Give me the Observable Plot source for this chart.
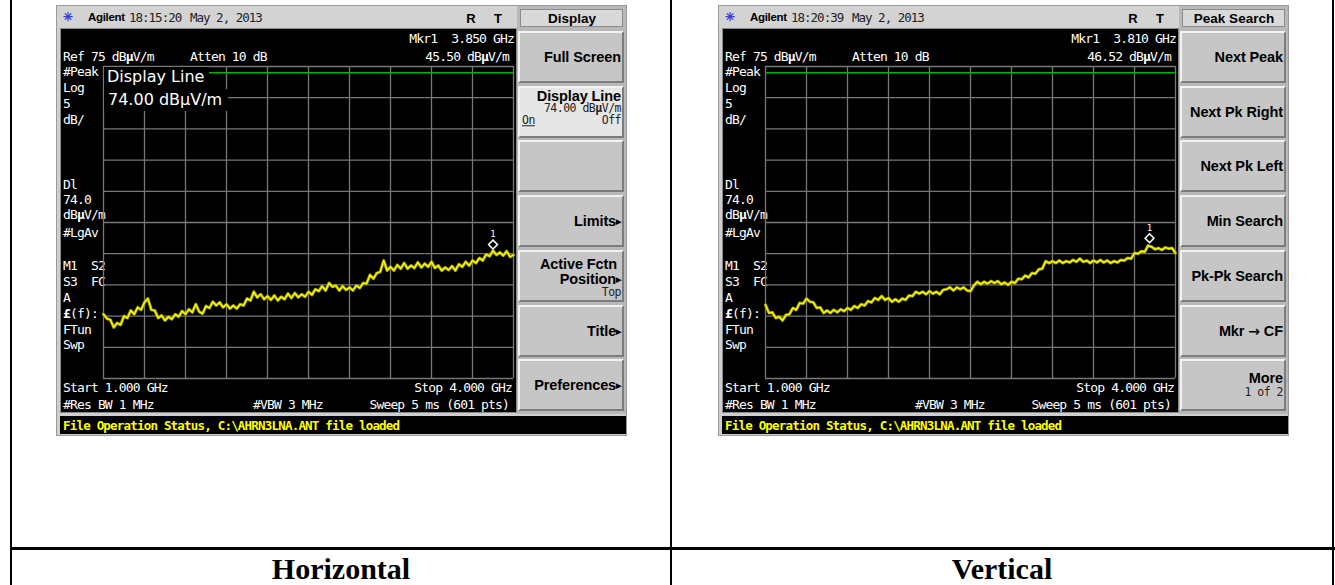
<!DOCTYPE html>
<html><head><meta charset="utf-8">
<script src="https://cdn.jsdelivr.net/npm/d3@7"></script>
<script src="https://cdn.jsdelivr.net/npm/@observablehq/plot@0.6"></script>
<style>
body{margin:0;width:1335px;height:585px;background:#fff;position:relative;overflow:hidden;}
.vline{position:absolute;top:0;width:2px;height:585px;background:#000}
.hline{position:absolute;left:11px;width:1324px;height:3px;background:#000}
.caption{position:absolute;top:552px;height:34px;font:bold 30px "Liberation Serif",serif;text-align:center;line-height:34px;color:#000}
.shot{position:absolute;top:5px;width:571px;height:431px;background:#cfcfcf;box-sizing:border-box;border:1px solid #9a9a9a}
.titlebar{position:absolute;left:0;top:0;width:460px;height:22px;background:#d3d3d3}
.screen{position:absolute;left:3px;top:22px;width:457px;height:385px;background:#000;box-sizing:border-box;border:1px solid #8a8a8a}
.status{position:absolute;left:3px;top:410px;width:566px;height:18px;background:#000}
.keys{position:absolute;left:460px;top:0;width:109px;height:408px;background:#b8b8b8}
.key{position:absolute;left:1px;width:106px;height:52px;box-sizing:border-box;background:#c6c6c6;border:2px solid;border-color:#f2f2f2 #7c7c7c #7c7c7c #f2f2f2}
.key.lit{background:#e6e6e6}
.hdr{position:absolute;left:3px;top:3px;width:103px;height:18px;box-sizing:border-box;background:#d9d9d9;border:1px solid #8c8c8c}
.t{position:absolute;white-space:pre;line-height:1;}
.mono{font-family:"DejaVu Sans Mono",monospace;font-size:13px;letter-spacing:-0.85px;color:#fff}
.stat{font-family:"DejaVu Sans Mono",monospace;font-weight:bold;font-size:12.5px;letter-spacing:-0.8px;color:#ffff00}
.big{font-family:"DejaVu Sans",sans-serif;font-size:16px;color:#fff}
.kb{font-family:"Liberation Sans",Arial,sans-serif;font-weight:bold;font-size:14.5px;letter-spacing:-0.1px;color:#000}
.tb{font-family:"Liberation Sans",Arial,sans-serif;font-weight:bold;font-size:12px;color:#000}
.tm{font-family:"DejaVu Sans Mono",monospace;font-size:12.5px;letter-spacing:-1px;color:#222}
.ks{font-family:"DejaVu Sans Mono",monospace;font-size:11.5px;letter-spacing:-0.5px;color:#222}
.arr{font-size:7px;vertical-align:2px}
.rar{font-family:"DejaVu Sans",sans-serif;font-weight:bold;font-size:14px}
.dlbox{position:absolute;background:#000}
.plot{position:absolute}
</style>
</head><body>
<div id="page"></div>
<script>
// ---------- data ----------
const freqGHz = [1.000,1.025,1.050,1.075,1.100,1.125,1.150,1.175,1.200,1.225,1.250,1.275,1.300,1.325,1.350,1.375,1.400,1.425,1.450,1.475,1.500,1.525,1.550,1.575,1.600,1.625,1.650,1.675,1.700,1.725,1.750,1.775,1.800,1.825,1.850,1.875,1.900,1.925,1.950,1.975,2.000,2.025,2.050,2.075,2.100,2.125,2.150,2.175,2.200,2.225,2.250,2.275,2.300,2.325,2.350,2.375,2.400,2.425,2.450,2.475,2.500,2.525,2.550,2.575,2.600,2.625,2.650,2.675,2.700,2.725,2.750,2.775,2.800,2.825,2.850,2.875,2.900,2.925,2.950,2.975,3.000,3.025,3.050,3.075,3.100,3.125,3.150,3.175,3.200,3.225,3.250,3.275,3.300,3.325,3.350,3.375,3.400,3.425,3.450,3.475,3.500,3.525,3.550,3.575,3.600,3.625,3.650,3.675,3.700,3.725,3.750,3.775,3.800,3.825,3.850,3.875,3.900,3.925,3.950,3.975,4.000];

const horizontalLevel = [
35.3,34.6,34.4,33.2,33.9,33.6,35.0,34.7,35.9,35.3,
36.4,36.0,37.2,37.8,36.0,35.9,34.7,35.1,34.3,34.9,
34.5,35.3,34.9,35.8,35.3,36.1,35.6,36.9,35.7,35.4,
36.6,36.3,37.3,36.7,37.2,36.4,36.9,36.2,36.7,36.2,
36.9,36.7,37.8,37.5,38.9,38.0,38.5,37.7,38.2,37.6,
38.3,37.5,38.1,37.7,38.6,37.9,38.7,38.0,38.5,38.1,
38.9,38.4,39.3,39.0,39.8,39.1,40.3,39.7,39.9,39.1,
39.8,39.2,39.6,39.1,39.9,39.5,40.3,40.2,41.6,41.0,
41.9,42.1,43.9,42.3,42.9,42.3,43.2,42.6,43.5,42.6,
43.1,42.7,43.6,42.8,43.4,42.9,43.7,42.7,43.1,42.3,
42.8,42.4,43.0,42.3,43.3,42.9,43.7,43.1,43.9,43.5,
44.3,43.9,44.9,44.6,45.5,44.8,45.2,44.7,45.4,44.5,
44.8];

const verticalLevel = [
36.8,35.5,35.6,34.7,34.9,34.3,35.2,35.3,36.3,36.0,
37.1,37.0,37.8,37.3,37.2,36.3,36.4,35.5,35.9,35.5,
36.0,35.6,36.1,35.8,36.3,36.0,36.6,36.3,36.9,36.7,
37.4,37.2,37.9,37.6,38.2,37.6,37.9,37.3,37.7,37.3,
37.8,37.6,38.3,38.2,38.9,38.6,38.9,38.5,39.0,38.6,
38.9,38.5,39.2,39.3,39.6,39.1,39.6,39.3,39.6,39.1,
39.0,39.9,40.5,40.1,40.5,40.2,40.6,40.3,40.6,40.1,
40.4,40.0,40.5,40.3,41.0,40.9,41.5,41.2,41.9,41.8,
42.5,42.6,43.8,43.5,43.8,43.5,43.9,43.5,43.8,43.6,
44.0,43.7,44.2,43.7,43.9,43.5,43.9,43.6,44.0,43.6,
43.9,43.5,43.8,43.6,44.0,43.9,44.3,44.2,45.1,45.0,
45.4,45.3,46.3,46.1,45.7,45.9,45.6,46.0,45.8,45.9,
45.1];

const freqGrid = [1.0,1.3,1.6,1.9,2.2,2.5,2.8,3.1,3.4,3.7,4.0];   // 10 divisions
const levelGrid = [25,30,35,40,45,50,55,60,65,70,75];           // Ref 75, 5 dB/div
const displayLineLevel = 74;
const markerFreqs = [3.850, 3.810];
const markerLevels = [45.50, 46.52];
const captions = ["Horizontal", "Vertical"];
const clockTimes = ["18:15:20", "18:20:39"];
const menuTitles = ["Display", "Peak Search"];
const statusText = "File Operation Status, C:\\AHRN3LNA.ANT file loaded";

// ---------- helpers ----------
const page = document.getElementById("page");
function el(parent, cls, style) {
  const d = document.createElement("div");
  d.className = cls;
  if (style) Object.assign(d.style, style);
  parent.appendChild(d);
  return d;
}
function txt(parent, html, x, cy, cls, align) {
  const d = el(parent, "t " + cls);
  d.innerHTML = html;
  d.style.left = x + "px";
  d.style.top = cy + "px";
  const tx = align === "right" ? "-100%" : align === "center" ? "-50%" : "0";
  d.style.transform = `translate(${tx},-50%)`;
  return d;
}
const MU = "<b>&micro;</b>";
const ARR = '<span class="arr">&#9654;</span>';

// table lines
el(page, "vline", {left: "10px"});
el(page, "vline", {left: "670px"});
el(page, "vline", {left: "1332px"});
el(page, "hline", {top: "547px"});

const leftKeys = [
  [{h: "Full Screen", y: 24, c: "kb", a: "right"}],
  [{h: "Display Line", y: 8.5, c: "kb", a: "right"}, {h: "74.00 dB" + MU + "V/m", y: 21.5, c: "ks", a: "right"},
   {h: "<u>On</u>", y: 33.8, c: "ks", a: "left"}, {h: "Off", y: 33.8, c: "ks", a: "right"}],
  [],
  [{h: "Limits" + ARR, y: 24, c: "kb", a: "right"}],
  [{h: "Active Fctn ", y: 12.5, c: "kb", a: "right"}, {h: "Position" + ARR, y: 27.5, c: "kb", a: "right"}, {h: "Top", y: 41.5, c: "ks", a: "right"}],
  [{h: "Title" + ARR, y: 24, c: "kb", a: "right"}],
  [{h: "Preferences" + ARR, y: 24, c: "kb", a: "right"}]
];
const rightKeys = [
  [{h: "Next Peak", y: 24, c: "kb", a: "right"}],
  [{h: "Next Pk Right", y: 24, c: "kb", a: "right"}],
  [{h: "Next Pk Left", y: 24, c: "kb", a: "right"}],
  [{h: "Min Search", y: 24, c: "kb", a: "right"}],
  [{h: "Pk-Pk Search", y: 24, c: "kb", a: "right"}],
  [{h: 'Mkr <span class="rar">&#8594;</span> CF', y: 24, c: "kb", a: "right"}],
  [{h: "More", y: 17, c: "kb", a: "right"}, {h: "1 of 2", y: 32, c: "ks", a: "right"}]
];

function panel(i) {
  const ox = i === 0 ? 56 : 718;
  const shot = el(page, "shot", {left: ox + "px"});
  // title bar
  const tb = el(shot, "titlebar");
  txt(tb, "&#10035;", 6, 11, "tb", "left").style.color = "#3b3bd8";
  const ag = txt(tb, "Agilent", 31, 11.5, "tb", "left");
  ag.style.fontSize = "11.5px"; ag.style.letterSpacing = "-0.3px";
  txt(tb, clockTimes[i], 72, 11.5, "tm", "left");
  txt(tb, "May 2, 2013", 133, 11.5, "tm", "left");
  txt(tb, "R", 414, 11.5, "tb", "center").style.fontSize = "13px";
  txt(tb, "T", 441, 11.5, "tb", "center").style.fontSize = "13px";

  // screen
  const sc = el(shot, "screen");
  const S = (x) => x - 4; // screen-local coordinates
  const Y = (y) => y - 23;
  const add = (h, x, y, a) => txt(sc, h, S(x), Y(y), "mono", a);
  add("Mkr1  " + markerFreqs[i].toFixed(3) + " GHz", 457, 32, "right");
  add("Ref 75 dB" + MU + "V/m", 6, 50, "left");
  add("Atten 10 dB", 133, 50, "left");
  add(markerLevels[i].toFixed(2) + " dB" + MU + "V/m", 452, 50, "right");
  const side = [["#Peak", 65], ["Log", 81], ["5", 97], ["dB/", 113], ["Dl", 178], ["74.0", 193], ["dB" + MU + "V/m", 208],
    ["#LgAv", 226], ["M1  S2", 259], ["S3  FC", 275], ["A", 291], ["<b>&pound;</b>(f):", 307], ["FTun", 323], ["Swp", 338]];
  side.forEach(([h, y]) => add(h, 6, y, "left"));
  add("Start 1.000 GHz", 6, 381, "left");
  add("Stop 4.000 GHz", 455, 381, "right");
  add("#Res BW 1 MHz", 6, 397.5, "left");
  add("#VBW 3 MHz", 196, 397.5, "left");
  add("Sweep 5 ms (601 pts)", 452, 397.5, "right");

  // plot (graticule + trace)
  const levels = i === 0 ? horizontalLevel : verticalLevel;
  const data = freqGHz.map((f, k) => ({f, v: levels[k]}));
  const mk = [{f: markerFreqs[i], v: markerLevels[i]}];
  const p = Plot.plot({
    width: 412, height: 314, margin: 1,
    x: {domain: [1, 4], axis: null},
    y: {domain: [25, 75], axis: null},
    style: {background: "transparent", overflow: "visible"},
    marks: [
      Plot.ruleY(levelGrid, {stroke: "#777", strokeWidth: 1.3}),
      Plot.ruleX(freqGrid, {stroke: "#777", strokeWidth: 1.3}),
      Plot.ruleY([displayLineLevel], {stroke: "#00b400", strokeWidth: 1.3}),
      Plot.line(data, {x: "f", y: "v", stroke: "#a5a500", strokeWidth: 3}),
      Plot.line(data, {x: "f", y: "v", stroke: "#ffff00", strokeWidth: 1.2}),
      Plot.dot(mk, {x: "f", y: "v", symbol: "diamond2", r: 4, stroke: "#fff", strokeWidth: 1.5, fill: "none", dy: -6}),
      Plot.text(mk, {x: "f", y: "v", text: () => "1", dy: -16, fill: "#fff", fontSize: 9, fontFamily: "DejaVu Sans Mono"})
    ]
  });
  p.classList.add("plot");
  p.style.left = S(45) + "px";
  p.style.top = Y(59) + "px";
  sc.appendChild(p);

  if (i === 0) {
    el(sc, "dlbox", {left: S(47) + "px", top: Y(61) + "px", width: "105px", height: "22px"});
    el(sc, "dlbox", {left: S(47) + "px", top: Y(83) + "px", width: "124px", height: "22px"});
    txt(sc, "Display Line", S(50), Y(71), "big", "left");
    txt(sc, "74.00 dB&micro;V/m", S(51), Y(94), "big", "left");
  }

  // status bar
  const st = el(shot, "status");
  txt(st, statusText, 3, 9.5, "stat", "left");

  // soft keys
  const ks = el(shot, "keys");
  const hd = el(ks, "hdr");
  txt(hd, menuTitles[i], 51, 8.5, "tb", "center").style.fontSize = "13.5px";
  (i === 0 ? leftKeys : rightKeys).forEach((lines, k) => {
    const b = el(ks, "key" + (i === 0 && k === 1 ? " lit" : ""), {top: (25 + k * 54.7) + "px"});
    lines.forEach(L => txt(b, L.h, L.a === "right" ? 101 : 2, L.y, L.c, L.a));
  });

  // caption
  const cap = el(page, "caption", {left: (i === 0 ? 12 : 672) + "px", width: (i === 0 ? 658 : 660) + "px"});
  cap.textContent = captions[i];
}
panel(0);
panel(1);
</script>
</body></html>
